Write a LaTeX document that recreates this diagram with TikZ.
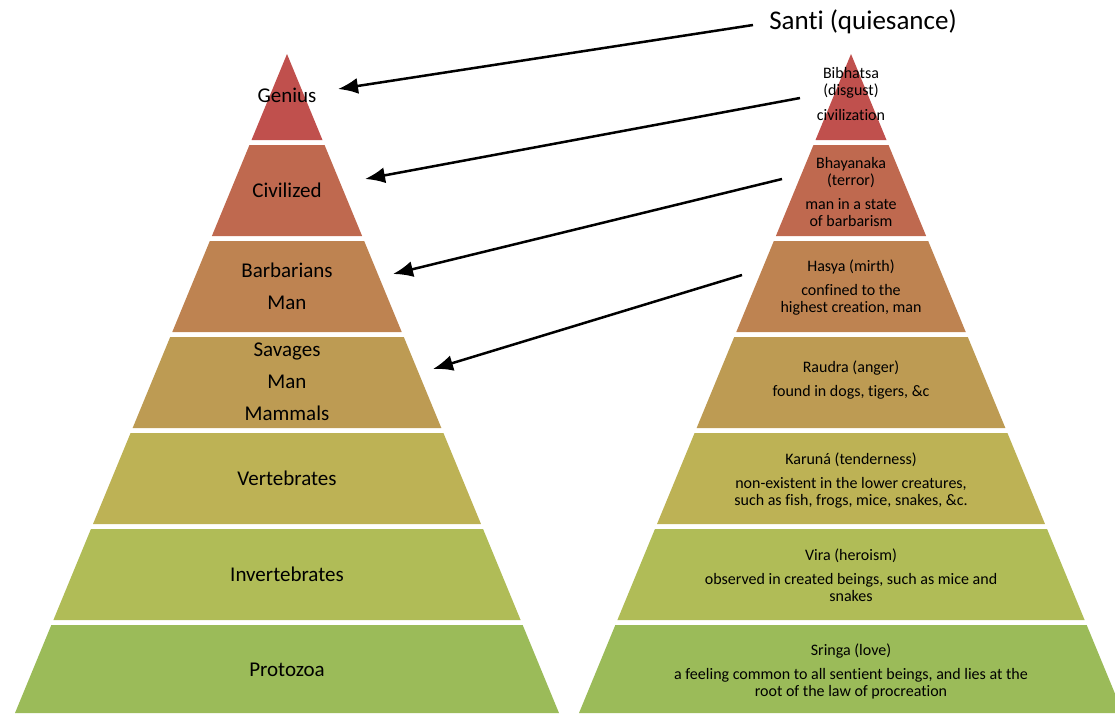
\documentclass[tikz,border=0pt]{standalone}
\usepackage{fontspec}
\setmainfont{Carlito}[Ligatures={NoCommon}]
\usetikzlibrary{arrows.meta}
\definecolor{c1}{RGB}{192,80,77}
\definecolor{c2}{RGB}{191,105,79}
\definecolor{c3}{RGB}{190,131,81}
\definecolor{c4}{RGB}{189,155,83}
\definecolor{c5}{RGB}{189,178,85}
\definecolor{c6}{RGB}{176,188,87}
\definecolor{c7}{RGB}{155,187,89}
\newcommand{\pyrlayer}[4]{%
  \fill[#4] ({#1-0.41274*(#2-54)},#2) -- ({#1+0.41274*(#2-54)},#2) --
            ({#1+0.41274*(#3-54)},#3) -- ({#1-0.41274*(#3-54)},#3) -- cycle;}
\newcommand{\pyramid}[1]{%
  \pyrlayer{#1}{54}{140}{c1}
  \pyrlayer{#1}{145}{236}{c2}
  \pyrlayer{#1}{241}{332}{c3}
  \pyrlayer{#1}{337}{428}{c4}
  \pyrlayer{#1}{433}{524}{c5}
  \pyrlayer{#1}{529}{620}{c6}
  \pyrlayer{#1}{625}{713}{c7}}
\tikzset{
  lefttext/.style={align=center, inner sep=0pt, font=\fontsize{21}{24}\selectfont, text=black},
  righttext/.style={align=center, inner sep=0pt, font=\fontsize{16}{17}\selectfont, text=black},
  bigtext/.style={inner sep=0pt, font=\fontsize{27}{32}\selectfont, text=black},
  conn/.style={line width=2.5pt, draw=black, -{Latex[length=20pt,width=16pt]}}
}
\begin{document}
\begin{tikzpicture}[x=1pt,y=-1pt]
\useasboundingbox (0,0) rectangle (1115,713);
\clip (0,0) rectangle (1115,713);
\pyramid{287}
\pyramid{851}
% left labels
\node[lefttext] (genius) at (287,95) {Genius};
\node[lefttext] (civ) at (287,190) {Civilized};
\node[lefttext] (barb) at (287,286) {Barbarians\\[8pt]Man};
\node[lefttext] (sav) at (287,382) {Savages\\[8pt]Man\\[8pt]Mammals};
\node[lefttext] (vert) at (287,478) {Vertebrates};
\node[lefttext] (invert) at (287,574) {Invertebrates};
\node[lefttext] (proto) at (287,670) {Protozoa};
% right labels
\node[bigtext] (santi) at (863,22) {Santi (quiesance)};
\node[righttext] (bib) at (851,94) {Bibhatsa\\(disgust)\\[8pt]civilization};
\node[righttext] (bhay) at (851,192) {Bhayanaka\\(terror)\\[7pt]man in a state\\of barbarism};
\node[righttext] (hasya) at (851,288) {Hasya (mirth)\\[7pt]confined to the\\highest creation, man};
\node[righttext] (raudra) at (851,380) {Raudra (anger)\\[7pt]found in dogs, tigers, \&c};
\node[righttext] (karuna) at (851,481) {Karuná (tenderness)\\[7pt]non-existent in the lower creatures,\\such as fish, frogs, mice, snakes, \&c.};
\node[righttext] (vira) at (851,575) {Vira (heroism)\\[7pt]observed in created beings, such as mice and\\snakes};
\node[righttext] (sringa) at (851,671) {Sringa (love)\\[7pt]a feeling common to all sentient beings, and lies at the\\root of the law of procreation};
% connectors
\coordinate (s1) at (753,25);
\coordinate (e1) at (338,89);
\coordinate (s2) at (800,98);
\coordinate (e2) at (365,179);
\coordinate (s3) at (782,179);
\coordinate (e3) at (393,274);
\coordinate (s4) at (742,275);
\coordinate (e4) at (433,369);
\draw[conn] (s1) -- (e1);
\draw[conn] (s2) -- (e2);
\draw[conn] (s3) -- (e3);
\draw[conn] (s4) -- (e4);
\end{tikzpicture}
\end{document}
